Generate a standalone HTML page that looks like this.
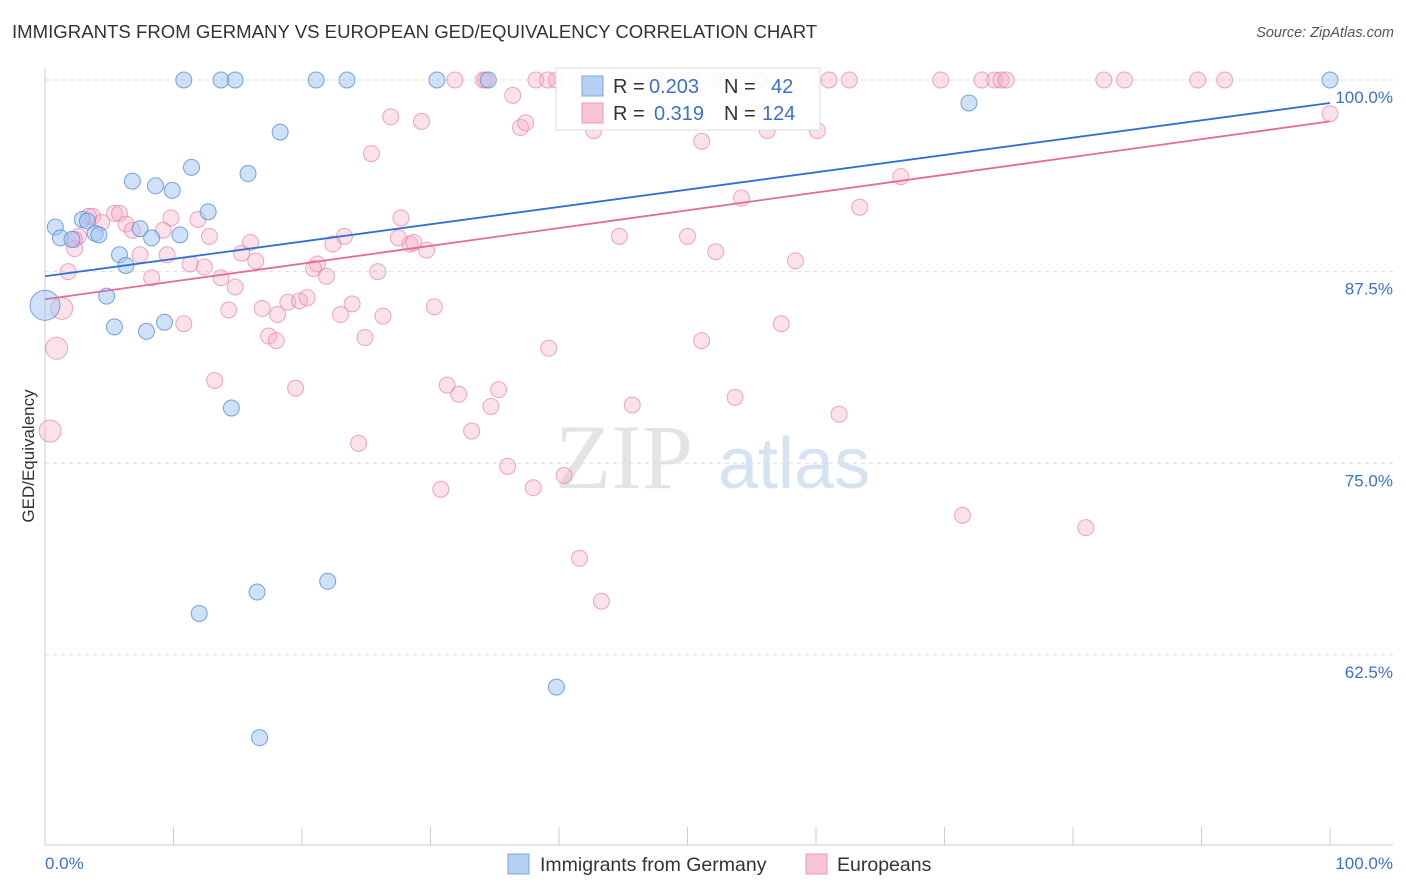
<!DOCTYPE html>
<html><head><meta charset="utf-8"><style>
body{margin:0;background:#fff;font-family:"Liberation Sans",sans-serif}
#wrap{position:relative;width:1406px;height:892px;overflow:hidden}
.t{position:absolute;white-space:nowrap}
</style></head><body>
<div id="wrap">
<div class="t" style="left:12px;top:21px;font-size:18.6px;color:#333">IMMIGRANTS FROM GERMANY VS EUROPEAN GED/EQUIVALENCY CORRELATION CHART</div>
<div class="t" style="right:12px;top:25px;font-size:14.5px;color:#555;font-style:italic">Source: ZipAtlas.com</div>
<svg id="svg" width="1406" height="892" style="position:absolute;left:0;top:0"></svg>
</div>
<script>
const blueX=[10.8,13.7,14.8,21.1,23.5,30.5,34.5,100,71.9,18.3,11.4,15.8,6.8,8.6,9.9,12.7,0.8,2.9,3.3,1.2,2.1,3.9,4.2,7.4,8.3,10.5,5.8,6.3,4.8,0,5.4,7.9,9.3,14.5,16.5,12.0,22.0,39.8,16.7];
const blueY=[100,100,100,100,100,100,100,100,98.5,96.6,94.3,93.9,93.4,93.1,92.8,91.4,90.4,90.9,90.8,89.7,89.6,90.0,89.9,90.3,89.7,89.9,88.6,87.9,85.9,85.3,83.9,83.6,84.2,78.6,66.6,65.2,67.3,60.4,57.1];
const blueBig=[29];
const pinkX=[31.9,34.1,34.3,38.2,39.1,39.8,41.5,45.5,47.6,50.4,52.0,53.2,55.6,61.0,62.6,69.7,72.9,73.9,74.4,74.8,82.4,84.0,89.7,91.8,
36.4,26.9,29.3,37.0,37.4,42.7,51.1,56.2,60.1,100,25.4,66.6,54.2,63.4,3.7,5.4,5.8,3.4,4.4,6.3,9.8,11.9,27.7,2.6,2.3,6.8,9.2,12.8,16.0,23.3,22.4,27.5,28.4,28.7,29.7,44.7,50.0,52.2,2.3,7.4,9.5,15.3,16.4,21.2,20.9,11.3,12.4,1.8,8.3,13.7,25.9,21.9,58.4,14.8,18.9,19.8,20.4,23.0,23.9,16.9,18.1,26.3,30.3,14.3,1.3,10.8,17.4,18.0,24.9,39.2,51.1,57.3,0.9,13.2,19.5,31.3,32.2,35.3,34.7,45.7,53.7,61.8,33.2,24.4,0.4,36.0,30.8,38.0,40.4,71.4,81.0,41.6,43.3];
const pinkY=[100,100,100,100,100,100,100,100,100,100,100,100,100,100,100,100,100,100,100,100,100,100,100,100,
99.0,97.6,97.3,96.9,97.2,96.7,96.0,96.7,96.7,97.8,95.2,93.7,92.3,91.7,91.1,91.3,91.3,91.1,90.7,90.6,91.0,90.9,91.0,89.8,89.6,90.2,90.2,89.8,89.4,89.8,89.3,89.7,89.3,89.4,88.9,89.8,89.8,88.8,89.0,88.6,88.6,88.7,88.2,88.0,87.7,88.0,87.8,87.5,87.1,87.1,87.5,87.2,88.2,86.5,85.5,85.6,85.8,84.7,85.4,85.1,84.7,84.6,85.2,85.0,85.1,84.1,83.3,83.0,83.2,82.5,83.0,84.1,82.5,80.4,79.9,80.1,79.5,79.8,78.7,78.8,79.3,78.2,77.1,76.3,77.1,74.8,73.3,73.4,74.2,71.6,70.8,68.8,66.0];
const pinkBig=[88,96,108];
const blueTrend=[87.2,98.5];
const pinkTrend=[85.7,97.3];
const yTicks=[100,87.5,75,62.5];
const yTickLabels=["100.0%","87.5%","75.0%","62.5%"];
const xTicks=[0,10,20,30,40,50,60,70,80,90,100];

const NS="http://www.w3.org/2000/svg",svg=document.getElementById('svg');
const X=v=>45+v*12.85, Y=v=>80+(100-v)*15.33;
function el(t,a){const e=document.createElementNS(NS,t);for(const k in a)e.setAttribute(k,a[k]);svg.appendChild(e);return e;}
let w=el('text',{x:555,y:488,'font-size':92,fill:'#e4e4e4','font-family':'Liberation Serif, serif'});w.textContent='ZIP';


let w2=el('text',{x:718,y:488,'font-size':72,fill:'#d6e3f3','font-family':'Liberation Sans, sans-serif'});w2.textContent='atlas';


yTicks.forEach((v,i)=>{
 const g=el('line',{x1:45,x2:1393,y1:Y(v),y2:Y(v),stroke:'#ddd','stroke-dasharray':'4,4'});
 
 
 const t=el('text',{x:1393,y:Y(v)+23,'text-anchor':'end','font-size':17,fill:'#3b6fd4'});t.textContent=yTickLabels[i];
 
 
});
el('line',{x1:45,x2:45,y1:68,y2:845,stroke:'#ccc'});
el('line',{x1:45,x2:1393,y1:845,y2:845,stroke:'#ccc'});
xTicks.forEach(v=>{const l=el('line',{x1:X(v),x2:X(v),y1:827,y2:845,stroke:'#ccc'});
 
 });
let xl=el('text',{x:45,y:869,'font-size':17,fill:'#3b6fd4'});xl.textContent='0.0%';


let xr=el('text',{x:1393,y:869,'text-anchor':'end','font-size':17,fill:'#3b6fd4'});xr.textContent='100.0%';


let yt=el('text',{x:34,y:456,'font-size':17,fill:'#333',transform:'rotate(-90 34 456)','text-anchor':'middle'});yt.textContent='GED/Equivalency';


pinkX.forEach((x,i)=>{const c=el('circle',{cx:X(x),cy:Y(pinkY[i]),r:pinkBig.includes(i)?11:8,fill:'rgba(244,170,196,0.35)',stroke:'rgba(232,130,168,0.7)','stroke-width':1});
 
 });
blueX.forEach((x,i)=>{const c=el('circle',{cx:X(x),cy:Y(blueY[i]),r:blueBig.includes(i)?15:8,fill:'rgba(160,195,240,0.5)',stroke:'rgba(90,140,220,0.8)','stroke-width':1});
 
 });
let bl=el('line',{x1:X(0),y1:Y(blueTrend[0]),x2:X(100),y2:Y(blueTrend[1]),stroke:'#2f6fd6','stroke-width':1.8});


let pl=el('line',{x1:X(0),y1:Y(pinkTrend[0]),x2:X(100),y2:Y(pinkTrend[1]),stroke:'#e46a9a','stroke-width':1.8});


let lb=el('rect',{x:556,y:68,width:264,height:62,fill:'rgba(255,255,255,0.9)',stroke:'#ddd'});


el('rect',{x:582,y:76,width:21,height:20,fill:'#b5d0f3',stroke:'#7aa6e6'});
el('rect',{x:582,y:103,width:21,height:20,fill:'#f8c3d4',stroke:'#eb9ab8'});
function tx(x,y,s,c,n,fs){const t=el('text',{x:x,y:y,'font-size':fs||20,fill:c});t.textContent=s;
 
 }
tx(613,93,'R =','#333','r-label');tx(649,93,'0.203','#3b6fd4','r-value-germany');tx(724,93,'N =','#333','n-label');tx(771,93,'42','#3b6fd4','n-value-germany');
tx(613,120,'R =','#333','r-label');tx(654,120,'0.319','#3b6fd4','r-value-europeans');tx(724,120,'N =','#333','n-label');tx(762,120,'124','#3b6fd4','n-value-europeans');
el('rect',{x:508,y:854,width:21,height:20,fill:'#b5d0f3',stroke:'#7aa6e6'});
tx(540,871,'Immigrants from Germany','#333','legend-germany',19.5);
el('rect',{x:806,y:854,width:21,height:20,fill:'#f8c3d4',stroke:'#eb9ab8'});
tx(837,871,'Europeans','#333','legend-europeans',19.5);
</script>
</body></html>
